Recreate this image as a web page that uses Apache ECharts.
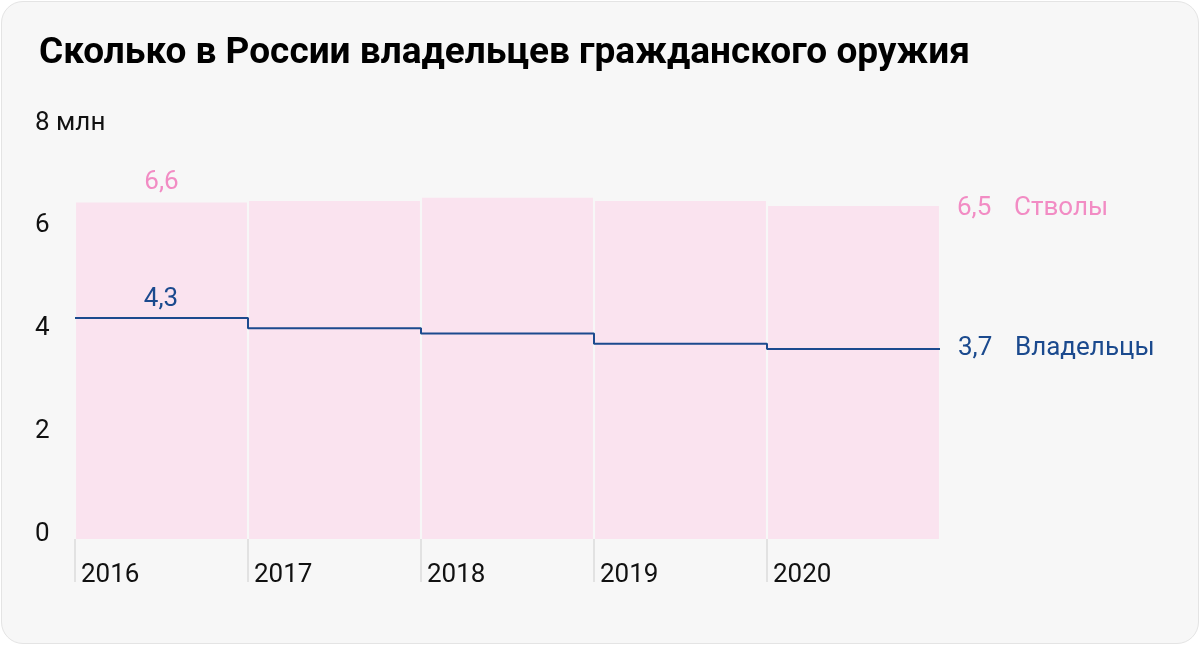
<!DOCTYPE html>
<html>
<head>
<meta charset="utf-8">
<script src="https://cdn.jsdelivr.net/npm/echarts@6/dist/echarts.min.js"></script>
<style>
  html, body { margin: 0; padding: 0; background: #fff; }
  .card {
    position: absolute; left: 1px; top: 1px; width: 1196px; height: 641px;
    background: #f7f7f7; border: 1px solid #e4e4e4; border-radius: 22px;
  }
  .j-chart { position: absolute; left: 0; top: 0; width: 1200px; height: 645px; }
</style>
</head>
<body>
<div class="card"></div>
<div class="j-chart"></div>
<script>
const years = ['2016', '2017', '2018', '2019', '2020']
const guns = [6.55, 6.58, 6.64, 6.58, 6.48]   // стволы, млн
const owners = [4.3, 4.1, 4.0, 3.8, 3.7]      // владельцы, млн
const yTicks = [0, 2, 4, 6, 8]

const pink = '#f28cc4'
const blue = '#1b4a8e'
const font = 'Roboto, "Noto Sans", sans-serif'
const fmt = v => String(Math.round(v * 10) / 10).replace('.', ',')

const last = guns.length - 1
const barData = guns.map((v, i) => {
	if (i === 0) return { value: v, label: { show: true, position: 'top', distance: 7, formatter: fmt(v) } }
	if (i === last) return {
		value: v,
		label: {
			show: true, position: ['100%', 0], offset: [18, 2], align: 'left', verticalAlign: 'middle',
			formatter: '{v|' + fmt(v) + '}{n|Стволы}',
			rich: { v: { width: 57, fontSize: 26, color: pink, fontFamily: font }, n: { fontSize: 26, color: pink, fontFamily: font } }
		}
	}
	return v
})
// ступенчатая линия: точки на границах лет, последняя — правый край
const ownerData = owners.map((v, i) => [i, v]).concat([[owners.length, owners[last]]])

const chart = echarts.init(document.querySelector('.j-chart'))
const option = {
	backgroundColor: 'transparent',
	animation: false,
	title: {
		text: 'Сколько в России владельцев гражданского оружия',
		left: 34, top: 30,
		textStyle: { fontFamily: font, fontWeight: 'bold', fontSize: 37, color: '#000' }
	},
	grid: { left: 75, right: 260, top: 128, bottom: 106 },
	xAxis: [{
		type: 'category',
		data: years,
		show: false
	}, {
		type: 'value',
		min: 0, max: years.length,
		position: 'bottom',
		splitLine: { show: false },
		axisLine: { show: false },
		axisTick: { show: true, length: 43, customValues: years.map((y, i) => i), lineStyle: { color: '#dcdcdc', width: 1.5 } },
		axisLabel: {
			customValues: years.map((y, i) => i),
			formatter: v => years[v],
			align: 'left', margin: 23, padding: [0, 0, 0, 6],
			fontFamily: font, fontSize: 26, color: '#111'
		}
	}],
	yAxis: {
		type: 'value',
		min: 0, max: 8, interval: 2,
		splitLine: { show: false },
		axisLine: { show: false },
		axisTick: { show: false },
		axisLabel: {
			customValues: yTicks,
			formatter: v => v === 8 ? '8 млн' : String(v),
			align: 'left', margin: 40, verticalAlign: 'bottom', lineHeight: 10,
			fontFamily: font, fontSize: 26, color: '#111'
		}
	},
	series: [{
		type: 'bar',
		xAxisIndex: 0,
		data: barData,
		barCategoryGap: '1.2%',
		itemStyle: { color: '#fae3ef' },
		label: { fontFamily: font, fontSize: 26, color: pink }
	}, {
		type: 'line',
		xAxisIndex: 1,
		data: ownerData,
		step: 'end',
		symbol: 'circle',
		symbolSize: 0,
		showSymbol: true,
		clip: false,
		lineStyle: { color: blue, width: 2 },
		itemStyle: { color: blue },
		label: {
			show: true, position: 'top', distance: 6, offset: [86, 0],
			formatter: p => p.dataIndex === 0 ? fmt(p.value[1]) : '',
			fontFamily: font, fontSize: 26, color: blue
		},
		endLabel: {
			show: true, distance: 18,
			formatter: '{v|' + fmt(owners[last]) + '}{n|Владельцы}',
			rich: { v: { width: 57, fontSize: 26, color: blue, fontFamily: font }, n: { fontSize: 26, color: blue, fontFamily: font } }
		}
	}]
}
chart.setOption(option)
</script>
</body>
</html>
